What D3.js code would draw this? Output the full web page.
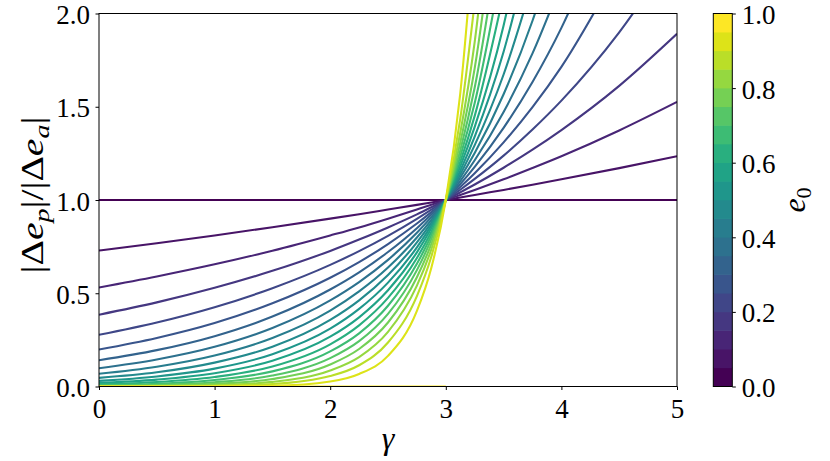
<!DOCTYPE html>
<html><head><meta charset="utf-8">
<script src="https://cdn.jsdelivr.net/npm/d3@7"></script>
<style>
body{margin:0;background:#fff}
</style>
</head><body>
<svg id="chart" width="830" height="461"></svg>
<script>
// gamma sample positions
const gammaGrid = [0, 0.5, 1, 1.5, 2, 2.25, 2.5, 2.75, 2.875, 3, 3.125, 3.25, 3.5, 3.75, 4, 4.5, 5];
// e0 value of each curve
const e0Values = [0, 0.053, 0.105, 0.158, 0.211, 0.263, 0.316, 0.368, 0.421, 0.474,
                  0.526, 0.579, 0.632, 0.684, 0.737, 0.789, 0.842, 0.895, 0.947, 1.0];
// |Δe_p|/|Δe_a| read at gammaGrid for each curve (null = off the top)
const ratioE00 = [1, 1, 1, 1, 1, 1, 1, 1, 1, 1, 1, 1, 1, 1, 1, 1, 1];
const ratioE01 = [0.729, 0.768, 0.810, 0.854, 0.900, 0.924, 0.949, 0.974, 0.987, 1, 1.013, 1.027, 1.054, 1.082, 1.111, 1.171, 1.235];
const ratioE02 = [0.531, 0.590, 0.655, 0.728, 0.810, 0.853, 0.900, 0.949, 0.974, 1, 1.027, 1.054, 1.111, 1.172, 1.235, 1.373, 1.526];
const ratioE03 = [0.385, 0.451, 0.529, 0.620, 0.727, 0.788, 0.853, 0.923, 0.961, 1, 1.041, 1.083, 1.173, 1.270, 1.375, 1.612, 1.891];
const ratioE04 = [0.277, 0.343, 0.425, 0.527, 0.652, 0.726, 0.808, 0.899, 0.948, 1, 1.055, 1.113, 1.238, 1.378, 1.533, 1.899, 2.351];
const ratioE05 = [0.198, 0.260, 0.340, 0.446, 0.583, 0.667, 0.764, 0.874, 0.935, 1, 1.070, 1.144, 1.309, 1.498, 1.714, 2.245, null];
const ratioE06 = [0.141, 0.195, 0.270, 0.375, 0.520, 0.612, 0.721, 0.849, 0.922, 1, 1.085, 1.178, 1.387, 1.633, 1.923, 2.667, null];
const ratioE07 = [0.098, 0.145, 0.213, 0.314, 0.462, 0.560, 0.679, 0.824, 0.908, 1, 1.101, 1.213, 1.472, 1.786, 2.167, null, null];
const ratioE08 = [0.068, 0.106, 0.166, 0.260, 0.407, 0.510, 0.638, 0.799, 0.894, 1, 1.119, 1.252, 1.567, 1.961, 2.455, null, null];
const ratioE09 = [0.046, 0.076, 0.128, 0.213, 0.357, 0.462, 0.598, 0.773, 0.879, 1, 1.137, 1.294, 1.673, 2.165, null, null, null];
const ratioE10 = [0.030, 0.054, 0.096, 0.173, 0.310, 0.416, 0.557, 0.746, 0.864, 1, 1.157, 1.340, 1.795, 2.405, null, null, null];
const ratioE11 = [0.019, 0.037, 0.071, 0.138, 0.267, 0.371, 0.516, 0.719, 0.848, 1, 1.180, 1.392, 1.936, 2.695, null, null, null];
const ratioE12 = [0.012, 0.024, 0.051, 0.107, 0.226, 0.328, 0.475, 0.689, 0.830, 1, 1.204, 1.451, 2.104, null, null, null, null];
const ratioE13 = [0.007, 0.015, 0.035, 0.081, 0.188, 0.285, 0.433, 0.658, 0.811, 1, 1.233, 1.520, 2.309, null, null, null, null];
const ratioE14 = [0.003, 0.009, 0.023, 0.059, 0.152, 0.243, 0.389, 0.624, 0.790, 1, 1.266, 1.603, 2.569, null, null, null, null];
const ratioE15 = [0.002, 0.005, 0.014, 0.040, 0.118, 0.201, 0.343, 0.586, 0.765, 1, 1.307, 1.707, 2.915, null, null, null, null];
const ratioE16 = [0.001, 0.002, 0.007, 0.025, 0.086, 0.158, 0.293, 0.541, 0.736, 1, 1.359, 1.848, 3.416, null, null, null, null];
const ratioE17 = [0.000, 0.001, 0.003, 0.013, 0.056, 0.114, 0.236, 0.485, 0.697, 1, 1.435, 2.060, null, null, null, null, null];
const ratioE18 = [0.000, 0.000, 0.001, 0.004, 0.027, 0.067, 0.164, 0.405, 0.637, 1, 1.570, 2.466, null, null, null, null, null];
const ratioE19 = [0, 0, 0, 0, 0, 0, 0, 0, 0, 0, null, null, null, null, null, null, null];
const seriesValues = [ratioE00, ratioE01, ratioE02, ratioE03, ratioE04, ratioE05, ratioE06, ratioE07, ratioE08, ratioE09,
                      ratioE10, ratioE11, ratioE12, ratioE13, ratioE14, ratioE15, ratioE16, ratioE17, ratioE18, ratioE19];
const xTicks = [0, 1, 2, 3, 4, 5];
const yTicks = [0, 0.5, 1.0, 1.5, 2.0];
const cbarTicks = [0, 0.2, 0.4, 0.6, 0.8, 1.0];
const cbarBounds = [0, 0.05, 0.1, 0.15, 0.2, 0.25, 0.3, 0.35, 0.4, 0.45, 0.5,
                    0.55, 0.6, 0.65, 0.7, 0.75, 0.8, 0.85, 0.9, 0.95, 1.0];

const FONT = '"Liberation Serif", "Times New Roman", serif';
const TICK_FS = 27;
const svg = d3.select("#chart");
const L = 99, R = 677, T = 13.5, B = 386.5;
const x = d3.scaleLinear().domain([0, 5]).range([L, R]);
const y = d3.scaleLinear().domain([0, 2]).range([B, T]);
const color = d3.scaleSequential(d3.interpolateViridis).domain([0, 1]);

svg.append("defs").append("clipPath").attr("id", "clip")
  .append("rect").attr("x", L).attr("y", T).attr("width", R - L).attr("height", B - T);

const line = d3.line()
  .defined(d => d[1] !== null)
  .x(d => x(d[0])).y(d => y(d[1]))
  .curve(d3.curveMonotoneX);

const g = svg.append("g").attr("clip-path", "url(#clip)");
seriesValues.forEach((vals, i) => {
  g.append("path")
    .attr("d", line(gammaGrid.map((gm, j) => [gm, vals[j]])))
    .attr("fill", "none")
    .attr("stroke", color(e0Values[i]))
    .attr("stroke-width", 2.1)
    .attr("stroke-linejoin", "round");
});

// frame
svg.append("rect").attr("x", L).attr("y", T).attr("width", R - L).attr("height", B - T)
  .attr("fill", "none").attr("stroke", "#000").attr("stroke-width", 1);

function styleAxis(sel) {
  sel.attr("font-family", null).attr("font-size", null);
  sel.select(".domain").remove();
  sel.selectAll(".tick line").attr("stroke", "#000").attr("stroke-width", 1);
  sel.selectAll(".tick text").attr("font-size", TICK_FS).attr("fill", "#000");
}

const gx = svg.append("g").attr("transform", `translate(0,${B})`)
  .call(d3.axisBottom(x).tickValues(xTicks).tickSize(3.5).tickFormat(d3.format("d")));
styleAxis(gx);
gx.selectAll(".tick text").attr("y", 31.5).attr("dy", null);

const gy = svg.append("g").attr("transform", `translate(${L},0)`)
  .call(d3.axisLeft(y).tickValues(yTicks).tickSize(3.5).tickFormat(d3.format(".1f")));
styleAxis(gy);
gy.selectAll(".tick text").attr("x", -9).attr("y", 10).attr("dy", null);

// colorbar
const CL = 713.3, CR = 732.3;
const cy = d3.scaleLinear().domain([0, 1]).range([B, T]);
const cbar = svg.append("g");
cbarBounds.slice(0, -1).forEach((b0, i) => {
  const b1 = cbarBounds[i + 1];
  cbar.append("rect").attr("x", CL).attr("width", CR - CL)
    .attr("y", cy(b1) - 0.3).attr("height", cy(b0) - cy(b1) + 0.6)
    .attr("fill", color(i / (cbarBounds.length - 2)));
});
cbar.append("rect").attr("x", CL).attr("y", T).attr("width", CR - CL).attr("height", B - T)
  .attr("fill", "none").attr("stroke", "#000").attr("stroke-width", 1);
const gc = svg.append("g").attr("transform", `translate(${CR},0)`)
  .call(d3.axisRight(cy).tickValues(cbarTicks).tickSize(3.5).tickFormat(d3.format(".1f")));
styleAxis(gc);
gc.selectAll(".tick text").attr("x", 9.4).attr("y", 10).attr("dy", null);

// x label
svg.append("text").attr("x", (L + R) / 2).attr("y", 449).attr("text-anchor", "middle")
  .attr("font-size", 32).attr("font-style", "italic").text("γ");

// y label
const ylG = svg.append("g").attr("transform", `translate(43,${(T + B) / 2 - 5}) rotate(-90)`);
const yl = ylG.append("text").attr("text-anchor", "middle").attr("font-size", 31);
yl.append("tspan").text("|Δ");
yl.append("tspan").attr("font-style", "italic").text("e");
yl.append("tspan").attr("font-style", "italic").attr("font-size", 22).attr("dy", 6).text("p");
yl.append("tspan").attr("dy", -6).text("|/|Δ");
yl.append("tspan").attr("font-style", "italic").text("e");
yl.append("tspan").attr("font-style", "italic").attr("font-size", 22).attr("dy", 6).text("a");
yl.append("tspan").attr("dy", -6).text("|");

// colorbar label
const cl = svg.append("text").attr("transform", `translate(805,${(T + B) / 2}) rotate(-90)`)
  .attr("text-anchor", "middle").attr("font-size", 32);
cl.append("tspan").attr("font-style", "italic").text("e");
cl.append("tspan").attr("font-size", 22).attr("dy", 6).text("0");

svg.selectAll("text").style("font-family", FONT).style("fill", "#000");
// stretch the y label to the reference's length
const natural = yl.node().getComputedTextLength();
if (natural > 0) yl.attr("transform", `scale(${157 / natural},1)`);
</script>
</body></html>
